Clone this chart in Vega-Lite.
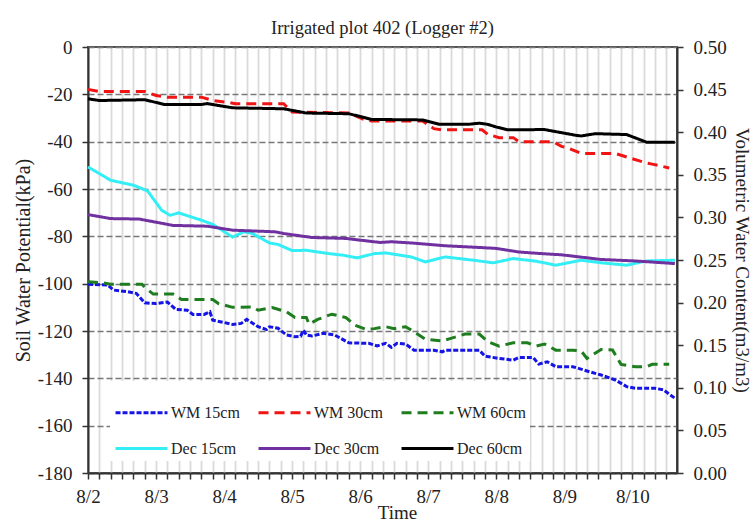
{
  "$schema": "https://vega.github.io/schema/vega-lite/v6.json",
  "width": 589,
  "height": 426,
  "autosize": {"type": "none"},
  "padding": {"left": 88, "top": 47, "right": 78, "bottom": 48},
  "background": "white",
  "title": {"text": "Irrigated plot 402 (Logger #2)", "font": "Liberation Serif", "fontSize": 18.5, "fontWeight": "normal", "color": "#222", "offset": 1, "anchor": "middle"},
  "config": {
    "view": {"stroke": "#555", "strokeWidth": 2}
  },
  "datasets": {
    "wm": [
      {"t": "2012-08-02T00:00", "v": -100.2, "s": "WM 15cm"},
      {"t": "2012-08-02T07:00", "v": -100.6, "s": "WM 15cm"},
      {"t": "2012-08-02T09:00", "v": -102.7, "s": "WM 15cm"},
      {"t": "2012-08-02T14:00", "v": -103.4, "s": "WM 15cm"},
      {"t": "2012-08-02T17:00", "v": -104.1, "s": "WM 15cm"},
      {"t": "2012-08-02T20:00", "v": -108.1, "s": "WM 15cm"},
      {"t": "2012-08-03T00:00", "v": -108.4, "s": "WM 15cm"},
      {"t": "2012-08-03T04:00", "v": -107.8, "s": "WM 15cm"},
      {"t": "2012-08-03T07:00", "v": -110.9, "s": "WM 15cm"},
      {"t": "2012-08-03T11:00", "v": -111.2, "s": "WM 15cm"},
      {"t": "2012-08-03T13:00", "v": -113.0, "s": "WM 15cm"},
      {"t": "2012-08-03T17:00", "v": -113.0, "s": "WM 15cm"},
      {"t": "2012-08-03T19:00", "v": -111.9, "s": "WM 15cm"},
      {"t": "2012-08-03T20:00", "v": -115.4, "s": "WM 15cm"},
      {"t": "2012-08-04T03:00", "v": -117.2, "s": "WM 15cm"},
      {"t": "2012-08-04T06:00", "v": -116.8, "s": "WM 15cm"},
      {"t": "2012-08-04T08:00", "v": -115.1, "s": "WM 15cm"},
      {"t": "2012-08-04T12:00", "v": -118.2, "s": "WM 15cm"},
      {"t": "2012-08-04T15:00", "v": -119.4, "s": "WM 15cm"},
      {"t": "2012-08-04T16:00", "v": -118.2, "s": "WM 15cm"},
      {"t": "2012-08-04T19:00", "v": -118.8, "s": "WM 15cm"},
      {"t": "2012-08-04T22:00", "v": -121.7, "s": "WM 15cm"},
      {"t": "2012-08-05T01:00", "v": -122.4, "s": "WM 15cm"},
      {"t": "2012-08-05T03:00", "v": -122.2, "s": "WM 15cm"},
      {"t": "2012-08-05T04:00", "v": -119.6, "s": "WM 15cm"},
      {"t": "2012-08-05T05:00", "v": -121.7, "s": "WM 15cm"},
      {"t": "2012-08-05T07:00", "v": -122.1, "s": "WM 15cm"},
      {"t": "2012-08-05T11:00", "v": -121.0, "s": "WM 15cm"},
      {"t": "2012-08-05T15:00", "v": -121.7, "s": "WM 15cm"},
      {"t": "2012-08-05T20:00", "v": -125.0, "s": "WM 15cm"},
      {"t": "2012-08-06T03:00", "v": -125.2, "s": "WM 15cm"},
      {"t": "2012-08-06T06:00", "v": -126.3, "s": "WM 15cm"},
      {"t": "2012-08-06T09:00", "v": -125.2, "s": "WM 15cm"},
      {"t": "2012-08-06T11:00", "v": -126.9, "s": "WM 15cm"},
      {"t": "2012-08-06T13:00", "v": -125.2, "s": "WM 15cm"},
      {"t": "2012-08-06T16:00", "v": -125.5, "s": "WM 15cm"},
      {"t": "2012-08-06T19:00", "v": -128.1, "s": "WM 15cm"},
      {"t": "2012-08-07T02:00", "v": -128.1, "s": "WM 15cm"},
      {"t": "2012-08-07T05:00", "v": -128.8, "s": "WM 15cm"},
      {"t": "2012-08-07T06:00", "v": -128.1, "s": "WM 15cm"},
      {"t": "2012-08-07T18:00", "v": -128.1, "s": "WM 15cm"},
      {"t": "2012-08-07T20:00", "v": -130.6, "s": "WM 15cm"},
      {"t": "2012-08-08T01:00", "v": -131.6, "s": "WM 15cm"},
      {"t": "2012-08-08T06:00", "v": -132.3, "s": "WM 15cm"},
      {"t": "2012-08-08T08:00", "v": -131.2, "s": "WM 15cm"},
      {"t": "2012-08-08T13:00", "v": -131.2, "s": "WM 15cm"},
      {"t": "2012-08-08T15:00", "v": -134.0, "s": "WM 15cm"},
      {"t": "2012-08-08T18:00", "v": -133.0, "s": "WM 15cm"},
      {"t": "2012-08-08T21:00", "v": -135.1, "s": "WM 15cm"},
      {"t": "2012-08-09T03:00", "v": -135.1, "s": "WM 15cm"},
      {"t": "2012-08-09T05:00", "v": -135.8, "s": "WM 15cm"},
      {"t": "2012-08-09T08:00", "v": -136.9, "s": "WM 15cm"},
      {"t": "2012-08-09T13:00", "v": -138.6, "s": "WM 15cm"},
      {"t": "2012-08-09T18:00", "v": -140.7, "s": "WM 15cm"},
      {"t": "2012-08-09T22:00", "v": -143.5, "s": "WM 15cm"},
      {"t": "2012-08-10T01:00", "v": -144.2, "s": "WM 15cm"},
      {"t": "2012-08-10T08:00", "v": -144.2, "s": "WM 15cm"},
      {"t": "2012-08-10T11:00", "v": -144.9, "s": "WM 15cm"},
      {"t": "2012-08-10T15:00", "v": -148.4, "s": "WM 15cm"},

      {"t": "2012-08-02T00:00", "v": -17.9, "s": "WM 30cm"},
      {"t": "2012-08-02T04:00", "v": -18.8, "s": "WM 30cm"},
      {"t": "2012-08-02T20:00", "v": -18.8, "s": "WM 30cm"},
      {"t": "2012-08-03T00:00", "v": -20.5, "s": "WM 30cm"},
      {"t": "2012-08-03T04:00", "v": -21.2, "s": "WM 30cm"},
      {"t": "2012-08-03T16:00", "v": -21.2, "s": "WM 30cm"},
      {"t": "2012-08-03T20:00", "v": -22.6, "s": "WM 30cm"},
      {"t": "2012-08-04T02:00", "v": -23.5, "s": "WM 30cm"},
      {"t": "2012-08-04T04:00", "v": -24.0, "s": "WM 30cm"},
      {"t": "2012-08-04T21:00", "v": -24.0, "s": "WM 30cm"},
      {"t": "2012-08-05T00:00", "v": -27.5, "s": "WM 30cm"},
      {"t": "2012-08-05T20:00", "v": -27.9, "s": "WM 30cm"},
      {"t": "2012-08-06T01:00", "v": -30.5, "s": "WM 30cm"},
      {"t": "2012-08-06T04:00", "v": -31.3, "s": "WM 30cm"},
      {"t": "2012-08-06T22:00", "v": -31.3, "s": "WM 30cm"},
      {"t": "2012-08-07T02:00", "v": -34.5, "s": "WM 30cm"},
      {"t": "2012-08-07T05:00", "v": -35.0, "s": "WM 30cm"},
      {"t": "2012-08-07T19:00", "v": -35.0, "s": "WM 30cm"},
      {"t": "2012-08-07T21:00", "v": -36.9, "s": "WM 30cm"},
      {"t": "2012-08-08T01:00", "v": -38.3, "s": "WM 30cm"},
      {"t": "2012-08-08T06:00", "v": -38.3, "s": "WM 30cm"},
      {"t": "2012-08-08T08:00", "v": -40.0, "s": "WM 30cm"},
      {"t": "2012-08-08T20:00", "v": -40.0, "s": "WM 30cm"},
      {"t": "2012-08-08T23:00", "v": -42.0, "s": "WM 30cm"},
      {"t": "2012-08-09T01:00", "v": -42.5, "s": "WM 30cm"},
      {"t": "2012-08-09T06:00", "v": -45.0, "s": "WM 30cm"},
      {"t": "2012-08-09T18:00", "v": -45.0, "s": "WM 30cm"},
      {"t": "2012-08-10T00:00", "v": -47.2, "s": "WM 30cm"},
      {"t": "2012-08-10T05:00", "v": -49.0, "s": "WM 30cm"},
      {"t": "2012-08-10T07:00", "v": -49.5, "s": "WM 30cm"},
      {"t": "2012-08-10T13:00", "v": -51.1, "s": "WM 30cm"},

      {"t": "2012-08-02T00:00", "v": -99.2, "s": "WM 60cm"},
      {"t": "2012-08-02T05:00", "v": -99.6, "s": "WM 60cm"},
      {"t": "2012-08-02T08:00", "v": -100.2, "s": "WM 60cm"},
      {"t": "2012-08-02T19:00", "v": -100.2, "s": "WM 60cm"},
      {"t": "2012-08-02T20:00", "v": -101.5, "s": "WM 60cm"},
      {"t": "2012-08-02T23:00", "v": -104.4, "s": "WM 60cm"},
      {"t": "2012-08-03T06:00", "v": -104.4, "s": "WM 60cm"},
      {"t": "2012-08-03T09:00", "v": -106.7, "s": "WM 60cm"},
      {"t": "2012-08-03T20:00", "v": -106.7, "s": "WM 60cm"},
      {"t": "2012-08-03T22:00", "v": -108.4, "s": "WM 60cm"},
      {"t": "2012-08-04T03:00", "v": -110.0, "s": "WM 60cm"},
      {"t": "2012-08-04T10:00", "v": -109.8, "s": "WM 60cm"},
      {"t": "2012-08-04T12:00", "v": -111.2, "s": "WM 60cm"},
      {"t": "2012-08-04T17:00", "v": -110.1, "s": "WM 60cm"},
      {"t": "2012-08-04T22:00", "v": -111.9, "s": "WM 60cm"},
      {"t": "2012-08-05T01:00", "v": -114.3, "s": "WM 60cm"},
      {"t": "2012-08-05T05:00", "v": -114.3, "s": "WM 60cm"},
      {"t": "2012-08-05T06:00", "v": -117.1, "s": "WM 60cm"},
      {"t": "2012-08-05T09:00", "v": -115.1, "s": "WM 60cm"},
      {"t": "2012-08-05T14:00", "v": -112.9, "s": "WM 60cm"},
      {"t": "2012-08-05T19:00", "v": -114.3, "s": "WM 60cm"},
      {"t": "2012-08-05T22:00", "v": -117.5, "s": "WM 60cm"},
      {"t": "2012-08-06T02:00", "v": -119.3, "s": "WM 60cm"},
      {"t": "2012-08-06T05:00", "v": -119.0, "s": "WM 60cm"},
      {"t": "2012-08-06T09:00", "v": -118.2, "s": "WM 60cm"},
      {"t": "2012-08-06T12:00", "v": -119.0, "s": "WM 60cm"},
      {"t": "2012-08-06T16:00", "v": -118.2, "s": "WM 60cm"},
      {"t": "2012-08-06T19:00", "v": -120.3, "s": "WM 60cm"},
      {"t": "2012-08-06T23:00", "v": -123.5, "s": "WM 60cm"},
      {"t": "2012-08-07T05:00", "v": -124.2, "s": "WM 60cm"},
      {"t": "2012-08-07T08:00", "v": -123.1, "s": "WM 60cm"},
      {"t": "2012-08-07T13:00", "v": -121.3, "s": "WM 60cm"},
      {"t": "2012-08-07T18:00", "v": -121.3, "s": "WM 60cm"},
      {"t": "2012-08-07T21:00", "v": -124.5, "s": "WM 60cm"},
      {"t": "2012-08-08T01:00", "v": -126.4, "s": "WM 60cm"},
      {"t": "2012-08-08T06:00", "v": -125.0, "s": "WM 60cm"},
      {"t": "2012-08-08T11:00", "v": -125.0, "s": "WM 60cm"},
      {"t": "2012-08-08T14:00", "v": -126.4, "s": "WM 60cm"},
      {"t": "2012-08-08T17:00", "v": -125.5, "s": "WM 60cm"},
      {"t": "2012-08-08T21:00", "v": -128.1, "s": "WM 60cm"},
      {"t": "2012-08-09T03:00", "v": -128.1, "s": "WM 60cm"},
      {"t": "2012-08-09T06:00", "v": -128.5, "s": "WM 60cm"},
      {"t": "2012-08-09T08:00", "v": -131.6, "s": "WM 60cm"},
      {"t": "2012-08-09T13:00", "v": -127.8, "s": "WM 60cm"},
      {"t": "2012-08-09T17:00", "v": -128.0, "s": "WM 60cm"},
      {"t": "2012-08-09T20:00", "v": -134.1, "s": "WM 60cm"},
      {"t": "2012-08-10T01:00", "v": -135.1, "s": "WM 60cm"},
      {"t": "2012-08-10T05:00", "v": -135.1, "s": "WM 60cm"},
      {"t": "2012-08-10T07:00", "v": -134.1, "s": "WM 60cm"},
      {"t": "2012-08-10T13:00", "v": -134.1, "s": "WM 60cm"}
    ],
    "dec": [
      {"t": "2012-08-02T00:00", "v": 0.3592, "s": "Dec 15cm"},
      {"t": "2012-08-02T08:00", "v": 0.3436, "s": "Dec 15cm"},
      {"t": "2012-08-02T16:00", "v": 0.3378, "s": "Dec 15cm"},
      {"t": "2012-08-02T21:00", "v": 0.3311, "s": "Dec 15cm"},
      {"t": "2012-08-03T02:00", "v": 0.3083, "s": "Dec 15cm"},
      {"t": "2012-08-03T05:00", "v": 0.3025, "s": "Dec 15cm"},
      {"t": "2012-08-03T08:00", "v": 0.3053, "s": "Dec 15cm"},
      {"t": "2012-08-03T16:00", "v": 0.2967, "s": "Dec 15cm"},
      {"t": "2012-08-03T20:00", "v": 0.2919, "s": "Dec 15cm"},
      {"t": "2012-08-04T03:00", "v": 0.2769, "s": "Dec 15cm"},
      {"t": "2012-08-04T07:00", "v": 0.2831, "s": "Dec 15cm"},
      {"t": "2012-08-04T10:00", "v": 0.2811, "s": "Dec 15cm"},
      {"t": "2012-08-04T11:00", "v": 0.2792, "s": "Dec 15cm"},
      {"t": "2012-08-04T16:00", "v": 0.2700, "s": "Dec 15cm"},
      {"t": "2012-08-04T19:00", "v": 0.2683, "s": "Dec 15cm"},
      {"t": "2012-08-05T00:00", "v": 0.2611, "s": "Dec 15cm"},
      {"t": "2012-08-05T05:00", "v": 0.2614, "s": "Dec 15cm"},
      {"t": "2012-08-05T13:00", "v": 0.2575, "s": "Dec 15cm"},
      {"t": "2012-08-05T18:00", "v": 0.2556, "s": "Dec 15cm"},
      {"t": "2012-08-05T23:00", "v": 0.2525, "s": "Dec 15cm"},
      {"t": "2012-08-06T05:00", "v": 0.2575, "s": "Dec 15cm"},
      {"t": "2012-08-06T09:00", "v": 0.2583, "s": "Dec 15cm"},
      {"t": "2012-08-06T18:00", "v": 0.2536, "s": "Dec 15cm"},
      {"t": "2012-08-06T23:00", "v": 0.2478, "s": "Dec 15cm"},
      {"t": "2012-08-07T06:00", "v": 0.2536, "s": "Dec 15cm"},
      {"t": "2012-08-07T16:00", "v": 0.2497, "s": "Dec 15cm"},
      {"t": "2012-08-07T23:00", "v": 0.2467, "s": "Dec 15cm"},
      {"t": "2012-08-08T06:00", "v": 0.2517, "s": "Dec 15cm"},
      {"t": "2012-08-08T14:00", "v": 0.2486, "s": "Dec 15cm"},
      {"t": "2012-08-08T21:00", "v": 0.2439, "s": "Dec 15cm"},
      {"t": "2012-08-09T06:00", "v": 0.2497, "s": "Dec 15cm"},
      {"t": "2012-08-09T13:00", "v": 0.2467, "s": "Dec 15cm"},
      {"t": "2012-08-09T22:00", "v": 0.2439, "s": "Dec 15cm"},
      {"t": "2012-08-10T05:00", "v": 0.2489, "s": "Dec 15cm"},
      {"t": "2012-08-10T15:00", "v": 0.2497, "s": "Dec 15cm"},

      {"t": "2012-08-02T00:00", "v": 0.3033, "s": "Dec 30cm"},
      {"t": "2012-08-02T08:00", "v": 0.2986, "s": "Dec 30cm"},
      {"t": "2012-08-02T18:00", "v": 0.2981, "s": "Dec 30cm"},
      {"t": "2012-08-03T06:00", "v": 0.2906, "s": "Dec 30cm"},
      {"t": "2012-08-03T18:00", "v": 0.2897, "s": "Dec 30cm"},
      {"t": "2012-08-04T03:00", "v": 0.2850, "s": "Dec 30cm"},
      {"t": "2012-08-04T18:00", "v": 0.2831, "s": "Dec 30cm"},
      {"t": "2012-08-04T21:00", "v": 0.2811, "s": "Dec 30cm"},
      {"t": "2012-08-05T04:00", "v": 0.2778, "s": "Dec 30cm"},
      {"t": "2012-08-05T07:00", "v": 0.2764, "s": "Dec 30cm"},
      {"t": "2012-08-05T19:00", "v": 0.2753, "s": "Dec 30cm"},
      {"t": "2012-08-06T00:00", "v": 0.2733, "s": "Dec 30cm"},
      {"t": "2012-08-06T07:00", "v": 0.2706, "s": "Dec 30cm"},
      {"t": "2012-08-06T11:00", "v": 0.2714, "s": "Dec 30cm"},
      {"t": "2012-08-06T18:00", "v": 0.2700, "s": "Dec 30cm"},
      {"t": "2012-08-07T06:00", "v": 0.2667, "s": "Dec 30cm"},
      {"t": "2012-08-07T18:00", "v": 0.2647, "s": "Dec 30cm"},
      {"t": "2012-08-08T00:00", "v": 0.2636, "s": "Dec 30cm"},
      {"t": "2012-08-08T08:00", "v": 0.2594, "s": "Dec 30cm"},
      {"t": "2012-08-08T16:00", "v": 0.2575, "s": "Dec 30cm"},
      {"t": "2012-08-08T23:00", "v": 0.2561, "s": "Dec 30cm"},
      {"t": "2012-08-09T13:00", "v": 0.2506, "s": "Dec 30cm"},
      {"t": "2012-08-10T01:00", "v": 0.2489, "s": "Dec 30cm"},
      {"t": "2012-08-10T15:00", "v": 0.2458, "s": "Dec 30cm"},

      {"t": "2012-08-02T00:00", "v": 0.4392, "s": "Dec 60cm"},
      {"t": "2012-08-02T04:00", "v": 0.4372, "s": "Dec 60cm"},
      {"t": "2012-08-02T20:00", "v": 0.4381, "s": "Dec 60cm"},
      {"t": "2012-08-03T03:00", "v": 0.4325, "s": "Dec 60cm"},
      {"t": "2012-08-03T16:00", "v": 0.4325, "s": "Dec 60cm"},
      {"t": "2012-08-03T18:00", "v": 0.4336, "s": "Dec 60cm"},
      {"t": "2012-08-04T03:00", "v": 0.4286, "s": "Dec 60cm"},
      {"t": "2012-08-04T21:00", "v": 0.4275, "s": "Dec 60cm"},
      {"t": "2012-08-05T05:00", "v": 0.4225, "s": "Dec 60cm"},
      {"t": "2012-08-05T20:00", "v": 0.4217, "s": "Dec 60cm"},
      {"t": "2012-08-06T04:00", "v": 0.4150, "s": "Dec 60cm"},
      {"t": "2012-08-06T22:00", "v": 0.4144, "s": "Dec 60cm"},
      {"t": "2012-08-07T04:00", "v": 0.4092, "s": "Dec 60cm"},
      {"t": "2012-08-07T14:00", "v": 0.4092, "s": "Dec 60cm"},
      {"t": "2012-08-07T18:00", "v": 0.4106, "s": "Dec 60cm"},
      {"t": "2012-08-07T21:00", "v": 0.4092, "s": "Dec 60cm"},
      {"t": "2012-08-08T00:00", "v": 0.4061, "s": "Dec 60cm"},
      {"t": "2012-08-08T04:00", "v": 0.4028, "s": "Dec 60cm"},
      {"t": "2012-08-08T17:00", "v": 0.4031, "s": "Dec 60cm"},
      {"t": "2012-08-09T04:00", "v": 0.3964, "s": "Dec 60cm"},
      {"t": "2012-08-09T06:00", "v": 0.3956, "s": "Dec 60cm"},
      {"t": "2012-08-09T11:00", "v": 0.3983, "s": "Dec 60cm"},
      {"t": "2012-08-09T22:00", "v": 0.3972, "s": "Dec 60cm"},
      {"t": "2012-08-10T05:00", "v": 0.3883, "s": "Dec 60cm"},
      {"t": "2012-08-10T15:00", "v": 0.3883, "s": "Dec 60cm"}
    ]
  },
  "encoding": {
    "x": {
      "field": "t", "type": "temporal",
      "scale": {"domain": [{"year": 2012, "month": 8, "date": 2, "hours": 0}, {"year": 2012, "month": 8, "date": 10, "hours": 15, "minutes": 45}]},
      "axis": {
        "title": "Time",
        "titleX": 309,
        "values": [
          {"year": 2012, "month": 8, "date": 2, "hours": 0}, {"year": 2012, "month": 8, "date": 2, "hours": 4}, {"year": 2012, "month": 8, "date": 2, "hours": 8}, {"year": 2012, "month": 8, "date": 2, "hours": 12}, {"year": 2012, "month": 8, "date": 2, "hours": 16}, {"year": 2012, "month": 8, "date": 2, "hours": 20},
          {"year": 2012, "month": 8, "date": 3, "hours": 0}, {"year": 2012, "month": 8, "date": 3, "hours": 4}, {"year": 2012, "month": 8, "date": 3, "hours": 8}, {"year": 2012, "month": 8, "date": 3, "hours": 12}, {"year": 2012, "month": 8, "date": 3, "hours": 16}, {"year": 2012, "month": 8, "date": 3, "hours": 20},
          {"year": 2012, "month": 8, "date": 4, "hours": 0}, {"year": 2012, "month": 8, "date": 4, "hours": 4}, {"year": 2012, "month": 8, "date": 4, "hours": 8}, {"year": 2012, "month": 8, "date": 4, "hours": 12}, {"year": 2012, "month": 8, "date": 4, "hours": 16}, {"year": 2012, "month": 8, "date": 4, "hours": 20},
          {"year": 2012, "month": 8, "date": 5, "hours": 0}, {"year": 2012, "month": 8, "date": 5, "hours": 4}, {"year": 2012, "month": 8, "date": 5, "hours": 8}, {"year": 2012, "month": 8, "date": 5, "hours": 12}, {"year": 2012, "month": 8, "date": 5, "hours": 16}, {"year": 2012, "month": 8, "date": 5, "hours": 20},
          {"year": 2012, "month": 8, "date": 6, "hours": 0}, {"year": 2012, "month": 8, "date": 6, "hours": 4}, {"year": 2012, "month": 8, "date": 6, "hours": 8}, {"year": 2012, "month": 8, "date": 6, "hours": 12}, {"year": 2012, "month": 8, "date": 6, "hours": 16}, {"year": 2012, "month": 8, "date": 6, "hours": 20},
          {"year": 2012, "month": 8, "date": 7, "hours": 0}, {"year": 2012, "month": 8, "date": 7, "hours": 4}, {"year": 2012, "month": 8, "date": 7, "hours": 8}, {"year": 2012, "month": 8, "date": 7, "hours": 12}, {"year": 2012, "month": 8, "date": 7, "hours": 16}, {"year": 2012, "month": 8, "date": 7, "hours": 20},
          {"year": 2012, "month": 8, "date": 8, "hours": 0}, {"year": 2012, "month": 8, "date": 8, "hours": 4}, {"year": 2012, "month": 8, "date": 8, "hours": 8}, {"year": 2012, "month": 8, "date": 8, "hours": 12}, {"year": 2012, "month": 8, "date": 8, "hours": 16}, {"year": 2012, "month": 8, "date": 8, "hours": 20},
          {"year": 2012, "month": 8, "date": 9, "hours": 0}, {"year": 2012, "month": 8, "date": 9, "hours": 4}, {"year": 2012, "month": 8, "date": 9, "hours": 8}, {"year": 2012, "month": 8, "date": 9, "hours": 12}, {"year": 2012, "month": 8, "date": 9, "hours": 16}, {"year": 2012, "month": 8, "date": 9, "hours": 20},
          {"year": 2012, "month": 8, "date": 10, "hours": 0}, {"year": 2012, "month": 8, "date": 10, "hours": 4}, {"year": 2012, "month": 8, "date": 10, "hours": 8}, {"year": 2012, "month": 8, "date": 10, "hours": 12}
        ],
        "labelExpr": "timeFormat(datum.value, '%H') == '00' ? timeFormat(datum.value, '%-m/%-d') : ''",
        "grid": true, "gridColor": "#dadada", "gridWidth": 1.8,
        "tickSize": 6, "tickColor": "#333", "tickWidth": 1.5,
        "domainColor": "#333", "domainWidth": 2,
        "labelFont": "Liberation Serif", "labelFontSize": 19, "labelColor": "#222",
        "labelPadding": 8, "labelFlush": false,
        "titleFont": "Liberation Serif", "titleFontSize": 19, "titleFontWeight": "normal", "titleColor": "#222",
        "titlePadding": -3
      }
    },
    "color": {
      "field": "s", "type": "nominal",
      "scale": {
        "domain": ["WM 15cm", "WM 30cm", "WM 60cm", "Dec 15cm", "Dec 30cm", "Dec 60cm"],
        "range": ["#1414e6", "#f01414", "#1e7d1e", "#33eef5", "#7030a0", "#000000"]
      },
      "legend": {
        "title": null, "orient": "none", "legendX": 22, "legendY": 334, "columns": 3, "direction": "horizontal",
        "fillColor": "white", "padding": 4, "symbolType": "stroke", "symbolSize": 2700,
        "symbolStrokeWidth": 3, "labelFont": "Liberation Serif", "labelFontSize": 16,
        "labelColor": "#222", "columnPadding": 12, "rowPadding": -12, "labelOffset": 2
      }
    },
    "strokeDash": {
      "field": "s", "type": "nominal",
      "scale": {
        "domain": ["WM 15cm", "WM 30cm", "WM 60cm", "Dec 15cm", "Dec 30cm", "Dec 60cm"],
        "range": [[5, 2], [10, 6], [10, 6], [1, 0], [1, 0], [1, 0]]
      }
    }
  },
  "layer": [
    {
      "data": {"name": "wm"},
      "mark": {"type": "line", "strokeWidth": 3},
      "encoding": {
        "y": {
          "field": "v", "type": "quantitative",
          "scale": {"domain": [-180, 0], "nice": false},
          "axis": {
            "title": "Soil Water Potential(kPa)",
            "values": [-180, -160, -140, -120, -100, -80, -60, -40, -20, 0],
            "labelExpr": "datum.value == 0 ? '0' : '-' + format(abs(datum.value), 'd')",
            "grid": true, "gridColor": "#777", "gridDash": [6, 3], "gridWidth": 1.5,
            "tickSize": 6, "tickColor": "#333", "tickWidth": 1.5,
            "domainColor": "#333", "domainWidth": 2,
            "labelFont": "Liberation Serif", "labelFontSize": 19, "labelColor": "#222", "labelPadding": 10,
            "titleFont": "Liberation Serif", "titleFontSize": 20, "titleFontWeight": "normal", "titleColor": "#222",
            "titlePadding": 4
          }
        }
      }
    },
    {
      "data": {"name": "dec"},
      "mark": {"type": "line", "strokeWidth": 3},
      "encoding": {
        "y": {
          "field": "v", "type": "quantitative",
          "scale": {"domain": [0, 0.5], "nice": false},
          "axis": {
            "orient": "right",
            "title": "Volumetric Water Content(m3/m3)",
            "values": [0, 0.05, 0.1, 0.15, 0.2, 0.25, 0.3, 0.35, 0.4, 0.45, 0.5],
            "format": ".2f",
            "grid": false,
            "tickSize": 6, "tickColor": "#333", "tickWidth": 1.5,
            "domainColor": "#333", "domainWidth": 2,
            "labelFont": "Liberation Serif", "labelFontSize": 19, "labelColor": "#222", "labelPadding": 10,
            "titleFont": "Liberation Serif", "titleFontSize": 19, "titleFontWeight": "normal", "titleColor": "#222",
            "titlePadding": 5
          }
        }
      }
    }
  ],
  "resolve": {"scale": {"y": "independent"}}
}
